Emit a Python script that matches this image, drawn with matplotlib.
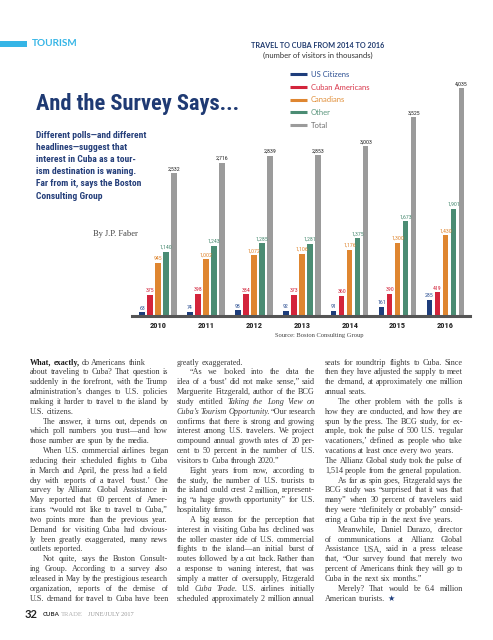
import matplotlib
matplotlib.use('Agg')
import matplotlib.pyplot as plt
import matplotlib.font_manager as fm
from matplotlib.patches import Rectangle
from matplotlib.lines import Line2D
import numpy as np

W, H = 493, 640

# chart data (thousands of visitors)
years = ['2010', '2011', '2012', '2013', '2014', '2015', '2016']
us_citizens = [63, 74, 98, 92, 91, 161, 285]
cuban_americans = [375, 398, 384, 373, 360, 390, 419]
canadians = [945, 1002, 1072, 1106, 1176, 1300, 1430]
other = [1140, 1243, 1285, 1281, 1375, 1673, 1901]
total = [2532, 2716, 2839, 2853, 3003, 3525, 4035]

series_names = ['US Citizens', 'Cuban Americans', 'Canadians', 'Other', 'Total']
bar_colors = ['#1e3d7b', '#d3243b', '#df8630', '#4b8c73', '#9b9b9b']
legend_text_colors = ['#2c4f92', '#d8364a', '#e08f3a', '#5a957c', '#6f6f6f']
value_colors = ['#2c4f92', '#d3243b', '#df8630', '#4b8c73', '#222222']

# article text, '\t' = paragraph indent, '|' = line not justified
# word prefixes: ^ bold, _ italic, * star glyph
col1 = [
    "^What, ^exactly, do Americans think|",
    "about traveling to Cuba? That question is",
    "suddenly in the forefront, with the Trump",
    "administration’s changes to U.S. policies",
    "making it harder to travel to the island by",
    "U.S. citizens.|",
    "\tThe answer, it turns out, depends on",
    "which poll numbers you trust—and how",
    "those number are spun by the media.|",
    "\tWhen U.S. commercial airlines began",
    "reducing their scheduled flights to Cuba",
    "in March and April, the press had a field",
    "day with reports of a travel ‘bust.’ One",
    "survey by Allianz Global Assistance in",
    "May reported that 60 percent of Amer-",
    "icans “would not like to travel to Cuba,”",
    "two points more than the previous year.",
    "Demand for visiting Cuba had obvious-",
    "ly been greatly exaggerated, many news",
    "outlets reported.|",
    "\tNot quite, says the Boston Consult-",
    "ing Group. According to a survey also",
    "released in May by the prestigious research",
    "organization, reports of the demise of",
    "U.S. demand for travel to Cuba have been",
]
col2 = [
    "greatly exaggerated.|",
    "\t“As we looked into the data the",
    "idea of a ‘bust’ did not make sense,” said",
    "Marguerite Fitzgerald, author of the BCG",
    "study entitled _Taking _the _Long _View _on",
    "_Cuba’s _Tourism _Opportunity. “Our research",
    "confirms that there is strong and growing",
    "interest among U.S. travelers. We project",
    "compound annual growth rates of 20 per-",
    "cent to 50 percent in the number of U.S.",
    "visitors to Cuba through 2020.”|",
    "\tEight years from now, according to",
    "the study, the number of U.S. tourists to",
    "the island could crest 2 million, represent-",
    "ing “a huge growth opportunity” for U.S.",
    "hospitality firms.|",
    "\tA big reason for the perception that",
    "interest in visiting Cuba has declined was",
    "the roller coaster ride of U.S. commercial",
    "flights to the island—an initial burst of",
    "routes followed by a cut back. Rather than",
    "a response to waning interest, that was",
    "simply a matter of oversupply, Fitzgerald",
    "told _Cuba _Trade. U.S. airlines initially",
    "scheduled approximately 2 million annual",
]
col3 = [
    "seats for roundtrip flights to Cuba. Since",
    "then they have adjusted the supply to meet",
    "the demand, at approximately one million",
    "annual seats.|",
    "\tThe other problem with the polls is",
    "how they are conducted, and how they are",
    "spun by the press. The BCG study, for ex-",
    "ample, took the pulse of 500 U.S. ‘regular",
    "vacationers,’ defined as people who take",
    "vacations at least once every two years.|",
    "The Allianz Global study took the pulse of",
    "1,514 people from the general population.|",
    "\tAs far as spin goes, Fitzgerald says the",
    "BCG study was “surprised that it was that",
    "many” when 30 percent of travelers said",
    "they were “definitely or probably” consid-",
    "ering a Cuba trip in the next five years.|",
    "\tMeanwhile, Daniel Durazo, director",
    "of communications at Allianz Global",
    "Assistance USA, said in a press release",
    "that, “Our survey found that merely two",
    "percent of Americans think they will go to",
    "Cuba in the next six months.”|",
    "\tMerely? That would be 6.4 million",
    "American tourists. *★|",
]

deck = ["Different polls—and different",
        "headlines—suggest that",
        "interest in Cuba as a tour-",
        "ism destination is waning.",
        "Far from it, says the Boston",
        "Consulting Group"]

names = {f.name for f in fm.fontManager.ttflist}
COND = next((n for n in ['Liberation Sans Narrow', 'Roboto Condensed', 'DejaVu Sans'] if n in names), 'DejaVu Sans')
SANS = 'Lato' if 'Lato' in names else 'DejaVu Sans'
SERIF = ['Liberation Serif', 'DejaVu Serif']

fig = plt.figure(figsize=(W / 100, H / 100), dpi=100)
fig.patch.set_facecolor('white')
renderer = fig.canvas.get_renderer()


def fx(x):
    return x / W


def fy(y):
    return 1 - y / H


def measure(s, **props):
    t = fig.text(0, 0, s, **props)
    w = t.get_window_extent(renderer).width
    t.remove()
    return w


def fit(s, target, **props):
    return 10 * target / measure(s, fontsize=10, **props)


def put(x, y, s, **kw):
    return fig.text(fx(x), fy(y), s, **kw)


# header
fig.add_artist(Rectangle((0, fy(47)), fx(27), 6 / H, transform=fig.transFigure,
                         color='#35b5e6', lw=0))
put(32, 44, 'TOURISM', family=SANS, weight='bold', color='#35b5e6', va='center',
    fontsize=fit('TOURISM', 46, family=SANS, weight='bold'))

tprops = dict(family=COND, weight='bold')
put(36, 110, 'And the Survey Says...', color='#1f3a73', va='baseline',
    fontsize=fit('And the Survey Says...', 204, **tprops), **tprops)

dsize = fit(deck[0], 110, **tprops)
for i, line in enumerate(deck):
    put(36, 135 + 12.25 * i, line, color='#253f7a', va='center', fontsize=dsize, **tprops)

put(93, 234, 'By J.P. Faber', family=SERIF, color='#444444', va='center',
    fontsize=fit('By J.P. Faber', 45, family=SERIF))

# chart title + legend
put(318, 45, 'TRAVEL TO CUBA FROM 2014 TO 2016', family=SANS, weight='bold', color='#1f3a6e',
    ha='center', va='center',
    fontsize=fit('TRAVEL TO CUBA FROM 2014 TO 2016', 134, family=SANS, weight='bold'))
put(318, 55, '(number of visitors in thousands)', family=SANS, color='#333333',
    ha='center', va='center',
    fontsize=fit('(number of visitors in thousands)', 110, family=SANS))

lsize = fit('Cuban Americans', 59, family=SANS)
for k, name in enumerate(series_names):
    yy = 74.3 + 12.7 * k
    fig.add_artist(Line2D([fx(290), fx(307)], [fy(yy), fy(yy)], transform=fig.transFigure,
                          color=bar_colors[k], lw=2.2, solid_capstyle='butt'))
    put(311, yy, name, family=SANS, color=legend_text_colors[k], va='center', fontsize=lsize)

# bar chart
ax = fig.add_axes([fx(132), fy(316), (470 - 132) / W, (316 - 60) / H])
ax.patch.set_alpha(0)
x = np.arange(len(years))
series = [us_citizens, cuban_americans, canadians, other, total]
offsets = (np.arange(5) - 2) * 0.167
bw = 0.115
for k, vals in enumerate(series):
    ax.bar(x + offsets[k], vals, bw, color=bar_colors[k], zorder=2)
    for xi, v in zip(x, vals):
        ax.annotate('{:,}'.format(v), (xi + offsets[k], v), xytext=(0, 1.2),
                    textcoords='offset points', ha='center', va='bottom',
                    fontsize=4.2, family=COND, color=value_colors[k])
ax.set_xlim(-0.543, 6.51)
ax.set_ylim(0, 256 / 0.0565)
for s in ['left', 'right', 'top']:
    ax.spines[s].set_visible(False)
ax.spines['bottom'].set_linewidth(2.2)
ax.spines['bottom'].set_color('#555555')
ax.spines['bottom'].set_zorder(3)
ax.set_yticks([])
ax.set_xticks(x, years)
ax.tick_params(axis='x', length=0, pad=4, labelsize=6, labelcolor='#222222')
for lab in ax.get_xticklabels():
    lab.set_family(COND)
    lab.set_weight('bold')

put(319, 336, 'Source: Boston Consulting Group', family=SERIF, color='#444444',
    ha='center', va='center',
    fontsize=fit('Source: Boston Consulting Group', 88, family=SERIF))

# body text, justified
col_x = [30, 177, 325]
col_w = 138
indent = 13
y0, dy = 362, 9.83


def clean(l):
    return l.replace('^', '').replace('_', '').replace('*', '').strip('\t|')


all_lines = col1 + col2 + col3
nat = sorted(measure(clean(l), family=SERIF, fontsize=10)
             for l in all_lines if not l.endswith('|'))
body_size = 10 * col_w * 0.95 / nat[len(nat) // 2]


def word_props(flag):
    p = dict(family=SERIF, fontsize=body_size, color='#3a3a3a')
    if flag == '^':
        p['weight'] = 'bold'
        p['color'] = '#1a1a1a'
    elif flag == '_':
        p['style'] = 'italic'
    elif flag == '*':
        p['family'] = ['DejaVu Sans']
        p['color'] = '#1e3d7b'
    return p


space = measure('a a', family=SERIF, fontsize=body_size) - measure('aa', family=SERIF, fontsize=body_size)

for c, col in enumerate([col1, col2, col3]):
    for i, line in enumerate(col):
        ind = indent if line.startswith('\t') else 0
        just = not line.endswith('|')
        toks = line.strip('\t|').split(' ')
        words = []
        for tok in toks:
            flag = tok[0] if tok[0] in '^_*' else ''
            words.append((tok[1:] if flag else tok, word_props(flag)))
        widths = [measure(w, **p) for w, p in words]
        gap = space
        if just and len(words) > 1:
            gap = max((col_w - ind - sum(widths)) / (len(words) - 1), 0.55 * space)
        xx = col_x[c] + ind
        yb = y0 + dy * i + 2.6
        for (w, p), wd in zip(words, widths):
            put(xx, yb, w, va='baseline', **p)
            xx += wd + gap

# footer
put(25, 615, '32', family=SANS, weight='bold', color='#222222', va='center',
    fontsize=fit('32', 13, family=SANS, weight='bold'))
put(43, 615, 'CUBA', family=SANS, weight='bold', color='#333333', va='center',
    fontsize=fit('CUBA', 17, family=SANS, weight='bold'))
put(60.5, 615, 'TRADE', family=SERIF, color='#b0b0b0', va='center',
    fontsize=fit('TRADE', 22, family=SERIF))
put(88, 615, 'JUNE/JULY 2017', family=SERIF, color='#999999', va='center',
    fontsize=fit('JUNE/JULY 2017', 47, family=SERIF))

fig.savefig('out.png', dpi=100, facecolor='white')
